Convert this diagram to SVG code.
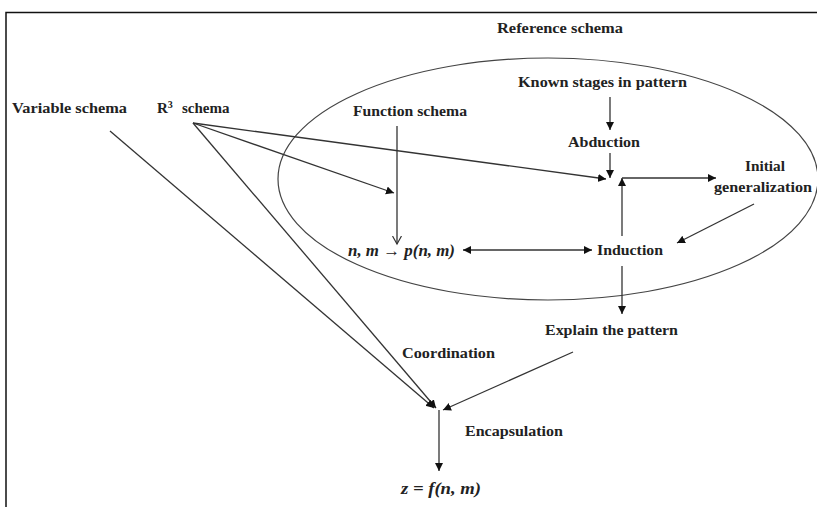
<svg xmlns="http://www.w3.org/2000/svg" width="817" height="507" viewBox="0 0 817 507">
<style>
.t{font-family:"Liberation Serif","Times New Roman",serif;font-weight:bold;font-size:15px;fill:#222}
.m{font-family:"Liberation Serif","Times New Roman",serif;font-style:italic;font-weight:bold;font-size:16px;fill:#222}
.c{stroke:#333;stroke-width:1.3;fill:none}
</style>
<defs>
<marker id="a" markerUnits="userSpaceOnUse" markerWidth="10" markerHeight="9" refX="8" refY="4" orient="auto"><path d="M0,0 L8,4 L0,8 z" fill="#111"/></marker>
<marker id="as" markerUnits="userSpaceOnUse" markerWidth="10" markerHeight="9" refX="0" refY="4" orient="auto"><path d="M8,0 L0,4 L8,8 z" fill="#111"/></marker>
<marker id="o" markerUnits="userSpaceOnUse" markerWidth="10" markerHeight="10" refX="8" refY="4.5" orient="auto"><path d="M0,0 L8,4.5 L0,9" fill="none" stroke="#333" stroke-width="1.2"/></marker>
</defs>
<rect width="817" height="507" fill="#fff"/>
<path d="M6,507 V12.5 H817" fill="none" stroke="#111" stroke-width="1.5"/>
<g id="reference-schema">
<ellipse cx="548" cy="179" rx="270" ry="121" fill="none" stroke="#444" stroke-width="1.2"/>
<text class="t" x="560" y="33" text-anchor="middle" textLength="126" lengthAdjust="spacingAndGlyphs">Reference schema</text>
</g>
<g id="variable-schema"><text class="t" x="12" y="113" textLength="115" lengthAdjust="spacingAndGlyphs">Variable schema</text></g>
<g id="r3-schema"><text class="t" x="157" y="113">R<tspan font-size="10" dy="-5">3</tspan><tspan dy="5" x="182">schema</tspan></text></g>
<g id="function-schema"><text class="t" x="353" y="116" textLength="114" lengthAdjust="spacingAndGlyphs">Function schema</text></g>
<g id="known-stages"><text class="t" x="518" y="87" textLength="169" lengthAdjust="spacingAndGlyphs">Known stages in pattern</text></g>
<g id="abduction"><text class="t" x="568" y="147" textLength="72" lengthAdjust="spacingAndGlyphs">Abduction</text></g>
<g id="initial-generalization">
<text class="t" x="745" y="171" textLength="40" lengthAdjust="spacingAndGlyphs">Initial</text>
<text class="t" x="714" y="192" textLength="98" lengthAdjust="spacingAndGlyphs">generalization</text>
</g>
<g id="function-map"><text class="m" x="348" y="256" textLength="107" lengthAdjust="spacingAndGlyphs">n, m → p(n, m)</text></g>
<g id="induction"><text class="t" x="597" y="255" textLength="66" lengthAdjust="spacingAndGlyphs">Induction</text></g>
<g id="explain-pattern"><text class="t" x="545" y="335" textLength="133" lengthAdjust="spacingAndGlyphs">Explain the pattern</text></g>
<g id="coordination"><text class="t" x="402" y="358" textLength="93" lengthAdjust="spacingAndGlyphs">Coordination</text></g>
<g id="encapsulation"><text class="t" x="465" y="436" textLength="98" lengthAdjust="spacingAndGlyphs">Encapsulation</text></g>
<g id="result"><text class="m" x="401" y="494" textLength="80" lengthAdjust="spacingAndGlyphs">z = f(n, m)</text></g>
<g id="connectors">
<path class="c" d="M610,97 L610,130" marker-end="url(#a)"/>
<path class="c" d="M610,153 L610,178" marker-end="url(#a)"/>
<path class="c" d="M193,123 L606,179" marker-end="url(#a)"/>
<path class="c" d="M193,123 L394,193" marker-end="url(#a)"/>
<path class="c" d="M193,123 L436,408" marker-end="url(#a)"/>
<path class="c" d="M110,131 L434,408" marker-end="url(#a)"/>
<path class="c" d="M397,126 L397,244" marker-end="url(#o)"/>
<path class="c" d="M463,250 L592,250" marker-start="url(#as)" marker-end="url(#a)"/>
<path class="c" d="M622,236 L622,178" marker-end="url(#a)"/>
<path class="c" d="M622,178 L716,178" marker-end="url(#a)"/>
<path class="c" d="M754,204 L677,243" marker-end="url(#a)"/>
<path class="c" d="M622,266 L622,314" marker-end="url(#a)"/>
<path class="c" d="M573,352 L443,410" marker-end="url(#a)"/>
<path class="c" d="M439,410 L439,471" marker-end="url(#a)"/>
</g>
</svg>
